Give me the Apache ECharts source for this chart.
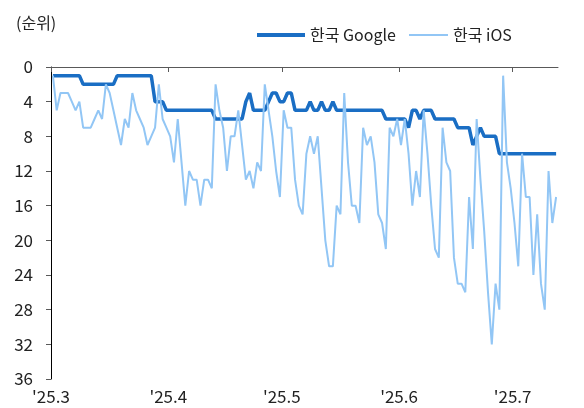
<!DOCTYPE html>
<html>
<head>
<meta charset="utf-8">
<script src="https://cdn.jsdelivr.net/npm/echarts@6/dist/echarts.min.js"></script>
<style>
html,body{margin:0;padding:0;background:#fff;}
#c{width:584px;height:408px;}
</style>
</head>
<body>
<div id="c"></div>
<script>
// ---- data ----
const startDate = '2025-03-01';
const dayCount = 134; // 2025-03-01 .. 2025-07-12, daily
const monthTicks = ['2025-03-01','2025-04-01','2025-05-01','2025-06-01','2025-07-01'];
const monthLabels = ["'25.3","'25.4","'25.5","'25.6","'25.7"];
const yTicks = [0,4,8,12,16,20,24,28,32,36];
const seriesNames = ['한국 Google','한국 iOS'];

const googleRank = [
  1,1,1,1,1,1,1,1, 2,2,2,2,2,2,2,2,2, 1,1,1,1,1,1,1,1,1,1,
  4,4,4, 5,5,5,5,5,5,5,5,5,5,5,5,5, 6,6,6,6,6,6,6,6,
  4,3,5,5,5,5,4,3,3,4,4,3,3,5,5,5,5,4,5,5,4,5,5,4,
  5,5,5,5,5,5,5,5,5,5,5,5,5, 6,6,6,6,6,6, 7,5,5,6,5,5,5,
  6,6,6,6,6,6, 7,7,7,7, 9,8,7, 8,8,8,8,
  10,10,10,10,10,10,10,10,10,10,10,10,10,10,10,10
];
const iosRank = [
  1,5,3,3,3,4,5,4,7,7,7,6,5,6,2,3,5,7,9,6,
  7,3,5,6,7,9,8,7,2,6,7,8,11,6,11,16,12,13,13,16,
  13,13,14,2,5,7,12,8,8,5,9,13,12,14,11,12,2,5,8,12,
  15,5,7,7,13,16,17,10,8,10,8,14,20,23,23,16,17,3,11,16,
  16,18,7,9,8,11,17,18,21,7,8,6,9,6,10,16,12,15,5,10,
  16,21,22,7,11,12,22,25,25,26,15,21,6,13,19,26,32,25,28,1,
  11,14,18,23,10,15,15,24,17,25,28,12,18,15
];

// ---- build ----
const DAY = 86400000;
const t0 = Date.parse(startDate);
function dayPos(dateStr){ return (Date.parse(dateStr) - t0) / DAY; }
// each daily observation sits in the middle of its day
const dates = [];
for (let i = 0; i < dayCount; i++) {
  dates.push(new Date(t0 + i * DAY).toISOString().slice(0,10));
}
const toPairs = arr => arr.map((v,i)=>[dayPos(dates[i]) + 0.5, v]);
const tickPos = monthTicks.map(dayPos);
const FONT = 'Noto Sans CJK KR';

const chart = echarts.init(document.getElementById('c'), null, {renderer:'canvas'});
chart.setOption({
  animation:false,
  backgroundColor:'#ffffff',
  textStyle:{fontFamily:FONT},
  title:{
    text:'(순위)', left:11, top:10,
    textStyle:{fontSize:16, fontWeight:'normal', color:'#222', fontFamily:FONT}
  },
  legend:[
    {data:[seriesNames[0]], left:257, top:27, padding:0, icon:'rect', itemWidth:48, itemHeight:4,
     textStyle:{fontSize:16, color:'#222', fontFamily:FONT}},
    {data:[seriesNames[1]], left:409, top:27, padding:0, icon:'rect', itemWidth:39, itemHeight:2,
     textStyle:{fontSize:16, color:'#222', fontFamily:FONT}}
  ],
  grid:{left:51, right:26, top:67, bottom:29, containLabel:false},
  xAxis:{
    type:'value', min:0, max:dayCount,
    axisLine:{show:true, lineStyle:{color:'#595959', width:1}},
    axisTick:{show:true, customValues:tickPos, length:5, lineStyle:{color:'#595959'}},
    axisLabel:{show:true, customValues:tickPos, margin:9, fontSize:17, color:'#222', fontFamily:FONT,
      formatter:function(v){ const k = tickPos.indexOf(v); return k>=0 ? monthLabels[k] : ''; }},
    splitLine:{show:false}
  },
  yAxis:{
    type:'value', inverse:true, min:yTicks[0], max:yTicks[yTicks.length-1], interval:4,
    axisLine:{show:true, lineStyle:{color:'#000', width:1}},
    axisTick:{show:true, length:5, lineStyle:{color:'#595959'}},
    axisLabel:{margin:18, fontSize:17, color:'#222', fontFamily:FONT},
    splitLine:{show:false}
  },
  series:[
    {name:seriesNames[0], type:'line', data:toPairs(googleRank), showSymbol:false, symbol:'none',
     lineStyle:{width:3.5, color:'#1a6ec4'}, itemStyle:{color:'#1a6ec4'}, z:2},
    {name:seriesNames[1], type:'line', data:toPairs(iosRank), showSymbol:false, symbol:'none',
     lineStyle:{width:2, color:'#92c6f5'}, itemStyle:{color:'#92c6f5'}, z:3}
  ]
});
</script>
</body>
</html>
